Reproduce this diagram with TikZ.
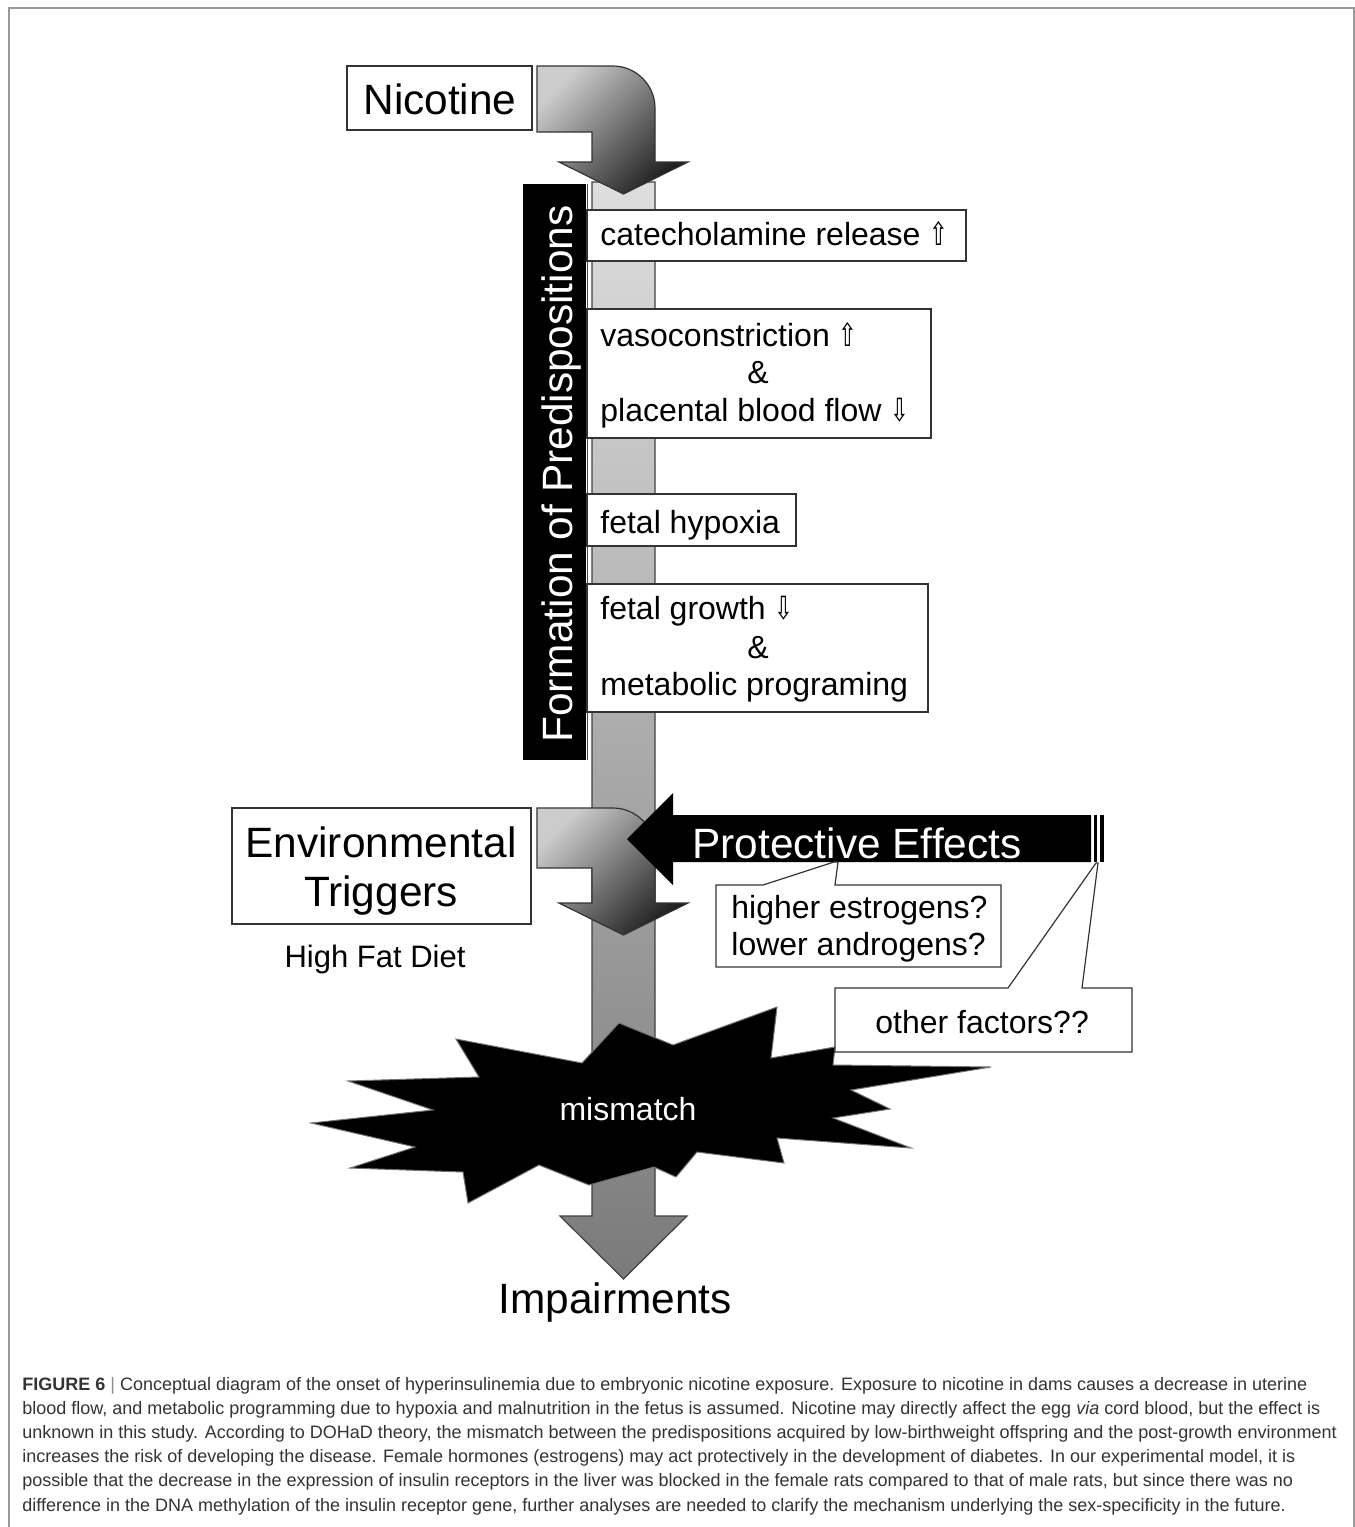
\documentclass[tikz,border=0pt]{standalone}
\usepackage{fontspec}
\usepackage{graphicx}
\setmainfont{Liberation Sans}
\newfontfamily\arrowfont{DejaVu Sans}
\newcommand{\uparw}{\scalebox{0.7}[1]{\arrowfont ⇧}}
\newcommand{\dnarw}{\scalebox{0.7}[1]{\arrowfont ⇩}}
\begin{document}
\begin{tikzpicture}[x=0.5pt,y=-0.5pt,
  box/.style={draw=black!80, line width=0.7pt, fill=white},
  bent/.style={draw=black!80, line width=0.6pt, top color=black!20, bottom color=black!88, shading angle=45},
  txt/.style={inner sep=0pt, font=\fontsize{16}{19}\selectfont, text=black},
  big/.style={inner sep=0pt, font=\fontsize{21.2}{24}\selectfont, text=black},
  capt/.style={inner sep=0pt, anchor=base west, font=\fontsize{9}{12}\selectfont, text=black!80}
  ]
\useasboundingbox (0,0) rectangle (1355,1527);
% frame
\draw[black!40, line width=0.75pt] (9,1560) -- (9,8) -- (1354,8) -- (1354,1560);
% main column with arrow head
\path[draw=black!75, line width=0.6pt, top color=black!13, middle color=black!22, bottom color=black!52]
  (592,182) -- (655,182) -- (655,1216) -- (687,1216) -- (623.5,1279) -- (560,1216) -- (592,1216) -- cycle;
% nicotine bent arrow
\path[bent] (537,66) -- (613,66) .. controls (636,66) and (655,85) .. (655,108)
  -- (655,162) -- (688,162) -- (623.5,194) -- (559,162) -- (592,162) -- (592,132) -- (537,132) -- cycle;
% vertical black label
\fill[black] (523,184) rectangle (586,760);
\draw[black!70, line width=0.5pt] (587.5,184) -- (587.5,760);
% boxes
\draw[box] (347,66) rectangle (532,130);
\draw[box] (587,210) rectangle (966,261);
\draw[box] (587,309) rectangle (931,438);
\draw[box] (587,494) rectangle (796,546);
\draw[box] (587,584) rectangle (928,712);
\draw[box] (232,808) rectangle (531,924);
% environmental bent arrow
\path[bent] (537,808) -- (613,808) .. controls (636,808) and (655,827) .. (655,850)
  -- (655,903) -- (688,903) -- (623.5,935) -- (559,903) -- (592,903) -- (592,868) -- (537,868) -- cycle;
% protective effects arrow
\fill[black] (627,839) -- (673,793) -- (673,815) -- (1091,815) -- (1091,862) -- (673,862) -- (673,885) -- cycle;
\fill[black] (1093.5,815) rectangle (1097,862);
\fill[black] (1099.5,815) rectangle (1104,862);
% callout 1
\filldraw[fill=white, draw=black!80, line width=0.6pt]
  (716,885) -- (763,885) -- (834,862) -- (838,862) -- (835,885) -- (1001,885) -- (1001,967) -- (716,967) -- cycle;
% mismatch star
\filldraw[fill=black, draw=black!55, line width=0.5pt]
  (619,1023) -- (673,1045) -- (777,1007) -- (771,1058) -- (835,1047) -- (833,1065) -- (991,1067)
  -- (851,1090) -- (890,1109) -- (833,1118) -- (911,1148) -- (777,1138) -- (784,1163) -- (697,1152)
  -- (676,1177) -- (654,1167) -- (589,1185) -- (539,1165) -- (468,1203) -- (463,1172) -- (350,1168)
  -- (415,1147) -- (311,1123) -- (433,1110) -- (348,1081) -- (479,1077) -- (456,1039) -- (582,1063) -- cycle;
% callout 2
\filldraw[fill=white, draw=black!80, line width=0.6pt]
  (835,988) -- (1008,988) -- (1096,863) -- (1098,863) -- (1082,988) -- (1132,988) -- (1132,1052) -- (835,1052) -- cycle;
% texts
\node[big, anchor=base] (nic) at (440,114) {Nicotine};
\node[big, anchor=base, rotate=90, text=white] (form) at (572,474) {Formation of Predispositions};
\node[txt, anchor=base west] (cat) at (600,245) {catecholamine release \uparw};
\node[txt, anchor=base west] (vaso) at (600,346) {vasoconstriction \uparw};
\node[txt, anchor=base] (amp1) at (758,383) {\&};
\node[txt, anchor=base west] (plac) at (600,421) {placental blood flow \dnarw};
\node[txt, anchor=base west] (hyp) at (600,533) {fetal hypoxia};
\node[txt, anchor=base west] (grow) at (600,619) {fetal growth \dnarw};
\node[txt, anchor=base] (amp2) at (758,658) {\&};
\node[txt, anchor=base west] (meta) at (600,695) {metabolic programing};
\node[big, anchor=base] (env1) at (381,857) {Environmental};
\node[big, anchor=base] (env2) at (381,906) {Triggers};
\node[txt, anchor=base, font=\fontsize{15.5}{18}\selectfont] (hfd) at (375,967) {High Fat Diet};
\node[big, anchor=base west, text=white] (prot) at (692,858) {Protective Effects};
\node[txt, anchor=base west] (est) at (731,918) {higher estrogens?};
\node[txt, anchor=base west] (andr) at (731,955) {lower androgens?};
\node[txt, anchor=base west] (oth) at (875,1033) {other factors??};
\node[txt, anchor=base, text=white] (mis) at (628,1120) {mismatch};
\node[big, anchor=base] (imp) at (615,1313) {Impairments};
% caption
\node[capt] (cap1) at (22,1390) {\textbf{FIGURE 6} \textcolor{black!45}{|} Conceptual diagram of the onset of hyperinsulinemia due to embryonic nicotine exposure. Exposure to nicotine in dams causes a decrease in uterine};
\node[capt] (cap2) at (22,1414.2) {blood flow, and metabolic programming due to hypoxia and malnutrition in the fetus is assumed. Nicotine may directly affect the egg \textit{via} cord blood, but the effect is};
\node[capt] (cap3) at (22,1438.4) {unknown in this study. According to DOHaD theory, the mismatch between the predispositions acquired by low-birthweight offspring and the post-growth environment};
\node[capt] (cap4) at (22,1462.6) {increases the risk of developing the disease. Female hormones (estrogens) may act protectively in the development of diabetes. In our experimental model, it is};
\node[capt] (cap5) at (22,1486.8) {possible that the decrease in the expression of insulin receptors in the liver was blocked in the female rats compared to that of male rats, but since there was no};
\node[capt] (cap6) at (22,1511) {difference in the DNA methylation of the insulin receptor gene, further analyses are needed to clarify the mechanism underlying the sex-specificity in the future.};
\end{tikzpicture}
\end{document}
